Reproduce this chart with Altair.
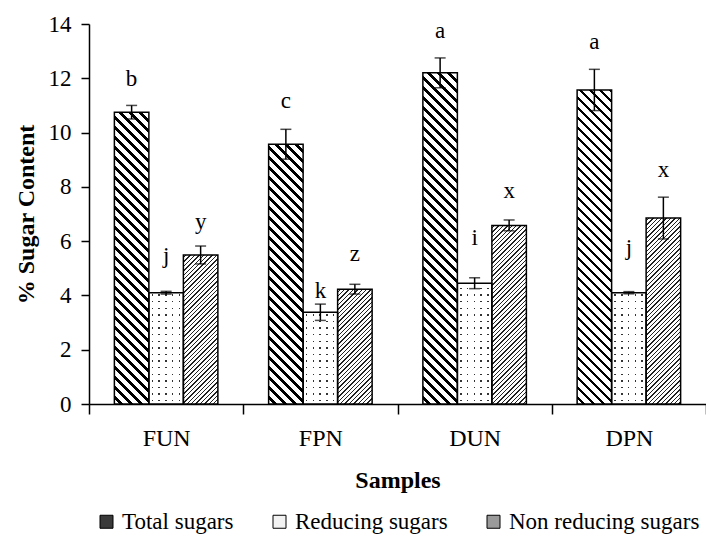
import altair as alt
import pandas as pd

# ---------------- data ----------------
samples = ["FUN", "FPN", "DUN", "DPN"]
series = ["Total sugars", "Reducing sugars", "Non reducing sugars"]

total = [10.75, 9.57, 12.2, 11.57]
total_err = [0.25, 0.55, 0.55, 0.76]
reducing = [4.1, 3.38, 4.45, 4.1]
reducing_err = [0.05, 0.3, 0.2, 0.04]
nonred = [5.49, 4.23, 6.58, 6.85]
nonred_err = [0.33, 0.18, 0.2, 0.77]

letters_total = ["b", "c", "a", "a"]
letters_reducing = ["j", "k", "i", "j"]
letters_nonred = ["y", "z", "x", "x"]
label_total = [11.72, 10.9, 13.49, 13.08]
label_reducing = [5.2, 3.9, 5.86, 5.49]
label_nonred = [6.45, 5.28, 7.59, 8.36]

y_ticks = [0, 2, 4, 6, 8, 10, 12, 14]

# ---------------- table ----------------
rows = []
for ser, vals, errs, lets, labs in [
    (series[0], total, total_err, letters_total, label_total),
    (series[1], reducing, reducing_err, letters_reducing, label_reducing),
    (series[2], nonred, nonred_err, letters_nonred, label_nonred),
]:
    for s, v, e, l, ly in zip(samples, vals, errs, lets, labs):
        rows.append(dict(Sample=s, Series=ser, value=v, lo=v - e, hi=v + e,
                         letter=l, label_y=ly))
df = pd.DataFrame(rows)

# ---------------- geometry used for the hatch fills ----------------
W, H, YMAX = 617, 380, 14
OUTER = 0.7355
step = W / len(samples)
bw = step / (len(series) + 2 * OUTER)

FONT = "Liberation Serif"
CLEAR = "rgba(255,255,255,0)"


def stripe_stops(L, period, dark_w, dark, light, start):
    stops = [{"offset": 0, "color": light}]
    pos = start
    while pos < L:
        a = round(max(pos, 0) / L, 5)
        b = round(min(pos + dark_w, L) / L, 5)
        if b > a:
            stops += [{"offset": a, "color": light}, {"offset": a, "color": dark},
                      {"offset": b, "color": dark}, {"offset": b, "color": light}]
        pos += period
    stops.append({"offset": 1, "color": light})
    return stops


def diag_gradient(w, h, backslash, period, dark_w, dark="#000000", light="#ffffff"):
    k = (w + h) / (w * w + h * h)
    dx, dy = w * k, h * k
    if backslash:
        x1, y1, x2, y2 = 0, 1, dx, 1 - dy
    else:
        x1, y1, x2, y2 = 0, 0, dx, dy
    return {"gradient": "linear", "x1": x1, "y1": y1, "x2": x2, "y2": y2,
            "stops": stripe_stops(w + h, period, dark_w, dark, light, period / 2)}


def cols_gradient(w, period, dot):
    return {"gradient": "linear", "x1": 0, "y1": 0, "x2": 1, "y2": 0,
            "stops": stripe_stops(w, period, dot, CLEAR, "#ffffff", period / 2 - dot / 2)}


def rows_gradient(h, period, dot):
    return {"gradient": "linear", "x1": 0, "y1": 1, "x2": 0, "y2": 0,
            "stops": stripe_stops(h, period, dot, CLEAR, "#ffffff", period / 2 - dot / 2)}


# ---------------- encodings ----------------
x_enc = alt.X("Sample:N", sort=samples,
              scale=alt.Scale(domain=samples, paddingInner=0, paddingOuter=0),
              axis=alt.Axis(title="Samples", labelAngle=0, tickBand="extent",
                            tickSize=10, labelPadding=12, titlePadding=18,
                            labelFont=FONT, titleFont=FONT,
                            labelFontSize=24, titleFontSize=24, titleFontWeight="bold"))
xo_enc = alt.XOffset("Series:N", sort=series,
                     scale=alt.Scale(domain=series, paddingInner=0, paddingOuter=OUTER))
y_axis = alt.Axis(values=y_ticks, tickSize=8, labelPadding=10, titlePadding=10,
                  labelFont=FONT, titleFont=FONT,
                  labelFontSize=23, titleFontSize=24, titleFontWeight="bold", grid=False)
y_scale = alt.Scale(domain=[0, YMAX], nice=False)


def y_enc(field):
    return alt.Y(field, scale=y_scale, axis=y_axis, title="% Sugar Content")


layers = []
for i, s in enumerate(samples):
    for j, ser in enumerate(series):
        v = df[(df.Sample == s) & (df.Series == ser)].value.iloc[0]
        h = v / YMAX * H
        base = alt.Chart(df).transform_filter(
            (alt.datum.Sample == s) & (alt.datum.Series == ser))
        enc = dict(x=x_enc, xOffset=xo_enc, y=y_enc("value:Q"))
        if j == 0:
            layers.append(base.mark_bar(fill=diag_gradient(bw, h, True, 10, 3.8),
                                        strokeWidth=0).encode(**enc))
        elif j == 2:
            layers.append(base.mark_bar(fill=diag_gradient(bw, h, False, 4.4, 1.4, "#222222"),
                                        strokeWidth=0).encode(**enc))
        else:
            layers.append(base.mark_bar(fill="#333333", strokeWidth=0).encode(**enc))
            layers.append(base.mark_bar(fill=cols_gradient(bw, 6.8, 1.5),
                                        strokeWidth=0).encode(**enc))
            layers.append(base.mark_bar(fill=rows_gradient(h, 6.6, 1.5),
                                        strokeWidth=0).encode(**enc))

SYM = 13

outline = alt.Chart(df).mark_bar(fillOpacity=0, stroke="black", strokeWidth=1.5).encode(
    x=x_enc, xOffset=xo_enc, y=y_enc("value:Q"),
    fill=alt.Fill("Series:N", sort=series,
                  scale=alt.Scale(domain=series, range=["#3a3a3a", "#f2f2f2", "#9a9a9a"]),
                  legend=alt.Legend(title=None, orient="none", legendX=6, legendY=486,
                                    direction="horizontal", symbolType="square",
                                    symbolSize=SYM * SYM, symbolStrokeColor="black",
                                    symbolStrokeWidth=1, symbolOpacity=1,
                                    labelFont=FONT, labelFontSize=23, labelColor="black",
                                    labelOffset=4, columnPadding=34, padding=0,
                                    labelLimit=0)))

err_rule = alt.Chart(df).mark_rule(color="black", strokeWidth=1.5).encode(
    x=x_enc, xOffset=xo_enc, y=y_enc("lo:Q"), y2="hi:Q")
err_top = alt.Chart(df).mark_tick(color="black", thickness=1.5, size=11,
                                  orient="horizontal").encode(
    x=x_enc, xOffset=xo_enc, y=y_enc("hi:Q"))
err_bot = alt.Chart(df).mark_tick(color="black", thickness=1.5, size=11,
                                  orient="horizontal").encode(
    x=x_enc, xOffset=xo_enc, y=y_enc("lo:Q"))
letters = alt.Chart(df).mark_text(font=FONT, fontSize=23, color="black",
                                  baseline="alphabetic").encode(
    x=x_enc, xOffset=xo_enc, y=y_enc("label_y:Q"), text="letter:N")

chart = alt.layer(*layers, outline, err_rule, err_top, err_bot, letters).properties(
    width=W, height=H,
    autosize=alt.AutoSizeParams(type="none"),
    padding={"left": 81, "top": 16, "right": 0, "bottom": 132},
).configure(font=FONT).configure_view(stroke=None).configure_axis(
    domainColor="black", domainWidth=1.5, tickColor="black", tickWidth=1.5,
    labelColor="black", titleColor="black", labelFont=FONT, titleFont=FONT,
).configure_legend(labelFont=FONT, labelFontSize=23, labelColor="black")

chart.save("out.html", embed_options={"renderer": "svg", "actions": False})
